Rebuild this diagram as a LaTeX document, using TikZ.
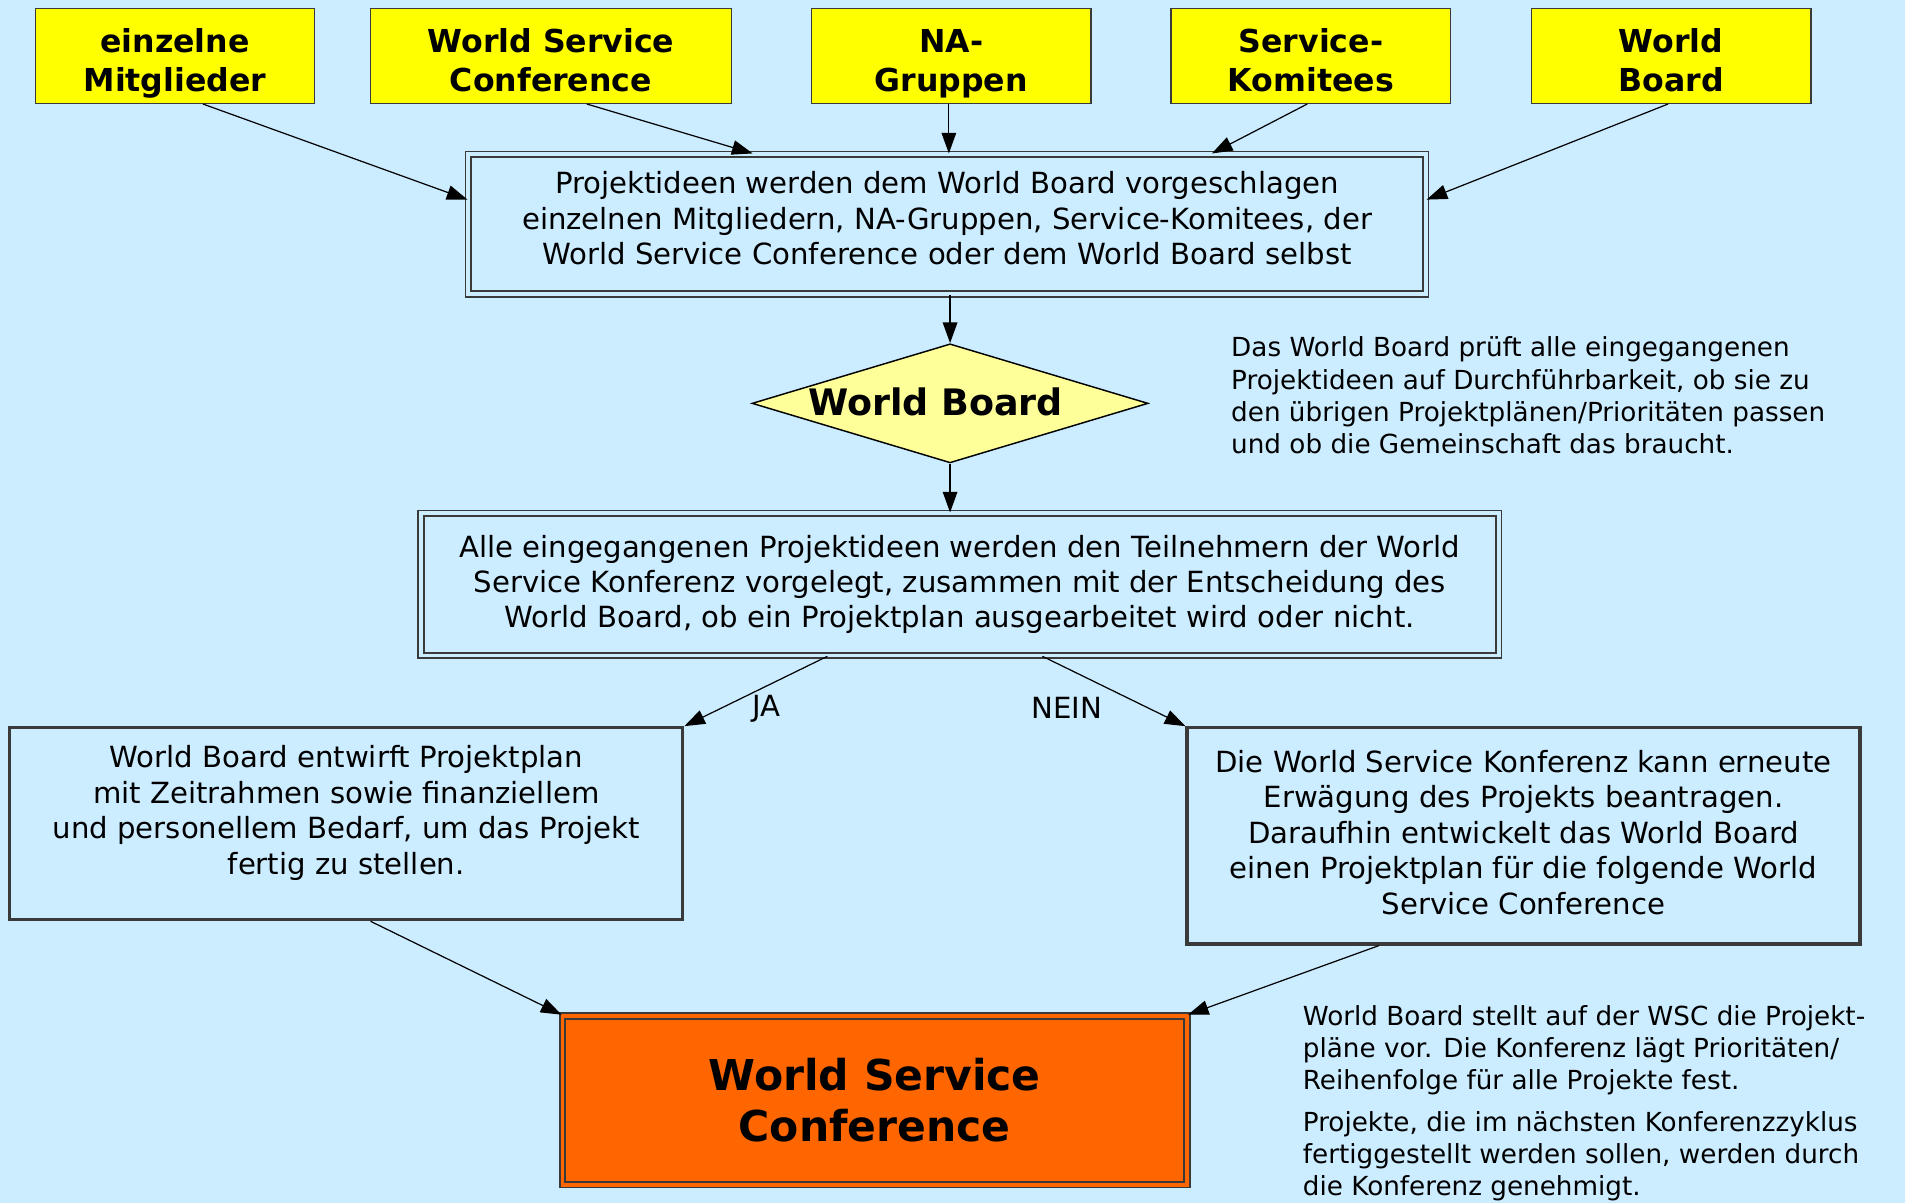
\documentclass[tikz,border=0pt]{standalone}
\usepackage{fontspec}
\setmainfont{DejaVu Sans}
\usepackage{tikz}
\usetikzlibrary{calc, arrows.meta, shapes.geometric}
\definecolor{xbg}{HTML}{CCECFF}
\definecolor{xyellow}{HTML}{FFFF00}
\definecolor{xpale}{HTML}{FFFF99}
\definecolor{xorange}{HTML}{FF6600}
\definecolor{xframe}{HTML}{3A3A3A}
\tikzset{
	source/.style = {draw=xframe, line width=0.6pt, fill=xyellow, minimum height=39pt, align=center,
		text height=29pt, text depth=0pt, font=\fontsize{13}{16}\selectfont\bfseries},
	idea/.style = {draw=xframe, line width=0.7pt, double=xbg, double distance=1.6pt, fill=xbg,
		align=center, font=\fontsize{12}{14.5}\selectfont},
	decision/.style = {diamond, draw=black, line width=0.6pt, fill=xpale, inner sep=0pt,
		minimum width=163pt, minimum height=49pt},
	plan/.style = {draw=xframe, line width=1.3pt, fill=xbg, minimum width=277pt, align=center,
		font=\fontsize{12}{14.6}\selectfont},
	conf/.style = {draw=xframe, line width=0.8pt, double=xorange, double distance=1.6pt, fill=xorange,
		minimum width=257pt, minimum height=69.5pt, align=center, font=\fontsize{17.5}{21}\selectfont\bfseries},
	note/.style = {anchor=west, inner sep=0pt, align=left, font=\fontsize{10.8}{13.25}\selectfont},
	flow/.style = {line width=0.5pt, -{Triangle[length=8.5pt, width=6pt]}},
}

\begin{document}
\begin{tikzpicture}[x=0.5pt, y=-0.5pt]
			\fill[xbg] (0,0) rectangle (1568,990);
			\useasboundingbox (0,0) rectangle (1568,990);
			\node[source, minimum width=115pt]   (m1) at (144,46)    {einzelne\\Mitglieder};
			\node[source, minimum width=148.5pt] (m2) at (453.5,46)  {World Service\\Conference};
			\node[source, minimum width=115pt]   (m3) at (783,46)    {NA-\\Gruppen};
			\node[source, minimum width=115pt]   (m4) at (1079,46)   {Service-\\Komitees};
			\node[source, minimum width=115pt]   (m5) at (1375.5,46) {World\\Board};
			\node[idea, minimum width=394pt, minimum height=57.5pt, text depth=5pt] (ideas) at (779.5,184.5)
				{Projektideen werden dem World Board vorgeschlagen\\einzelnen Mitgliedern, NA-Gruppen, Service-Komitees, der\\World Service Conference oder dem World Board selbst};
			\node[decision] (wb) at (782,332) {};
			\node[font=\fontsize{15}{18}\selectfont\bfseries] (wbtext) at (770,331) {World Board};
			\node[note] (check) at (1013,325.5)
				{Das World Board prüft alle eingegangenen\\Projektideen auf Durchführbarkeit, ob sie zu\\den übrigen Projektplänen/Prioritäten passen\\und ob die Gemeinschaft das braucht.};
			\node[idea, minimum width=443.5pt, minimum height=58.5pt] (vote) at (790,481)
				{Alle eingegangenen Projektideen werden den Teilnehmern der World\\Service Konferenz vorgelegt, zusammen mit der Entscheidung des\\World Board, ob ein Projektplan ausgearbeitet wird oder nicht.};
			\node[plan, minimum height=79pt, text depth=11.2pt] (yes) at (285,678)
				{World Board entwirft Projektplan\\mit Zeitrahmen sowie finanziellem\\und personellem Bedarf, um das Projekt\\fertig zu stellen.};
			\node[plan, minimum height=89pt, text depth=3pt] (no) at (1254,688)
				{Die World Service Konferenz kann erneute\\Erwägung des Projekts beantragen.\\Daraufhin entwickelt das World Board\\einen Projektplan für die folgende World\\Service Conference};
			\node[conf] (wsc) at (720,905.5) {World Service\\Conference};
			\node[note] (order) at (1072,908)
				{World Board stellt auf der WSC die Projekt-\\pläne vor. Die Konferenz lägt Prioritäten/\\Reihenfolge für alle Projekte fest.\\[3.75pt]Projekte, die im nächsten Konferenzzyklus\\fertiggestellt werden sollen, werden durch\\die Konferenz genehmigt.};
			% proposals
			\draw[flow] ([xshift=11.5pt]m1.south) -- ([yshift=-19pt]ideas.north west);
			\draw[flow] ([xshift=14.75pt]m2.south) -- ([xshift=-80pt]ideas.north);
			\draw[flow] ([xshift=-1pt]m3.south) -- ([xshift=-1pt]m3.south |- ideas.north);
			\draw[flow] ([xshift=-1.5pt]m4.south) -- ([xshift=109pt]ideas.north);
			\draw[flow] ([xshift=-1.25pt]m5.south) -- ([yshift=-19pt]ideas.north east);
			\draw[flow] (wb.north |- ideas.south) -- (wb.north);
			\draw[flow] (wb.south) -- (wb.south |- vote.north);
			\draw[flow] ([xshift=-54.5pt]vote.south) -- (yes.north east);
			\draw[flow] ([xshift=34pt]vote.south) -- (no.north west);
			\node[font=\fontsize{12}{14}\selectfont] (ja) at (631,583) {JA};
			\node[font=\fontsize{12}{14}\selectfont] (nein) at (878,583) {NEIN};
			\draw[flow] ([xshift=10pt]yes.south) -- (wsc.north west);
			\draw[flow] ([xshift=-59.5pt]no.south) -- (wsc.north east);
		\end{tikzpicture}
\end{document}
